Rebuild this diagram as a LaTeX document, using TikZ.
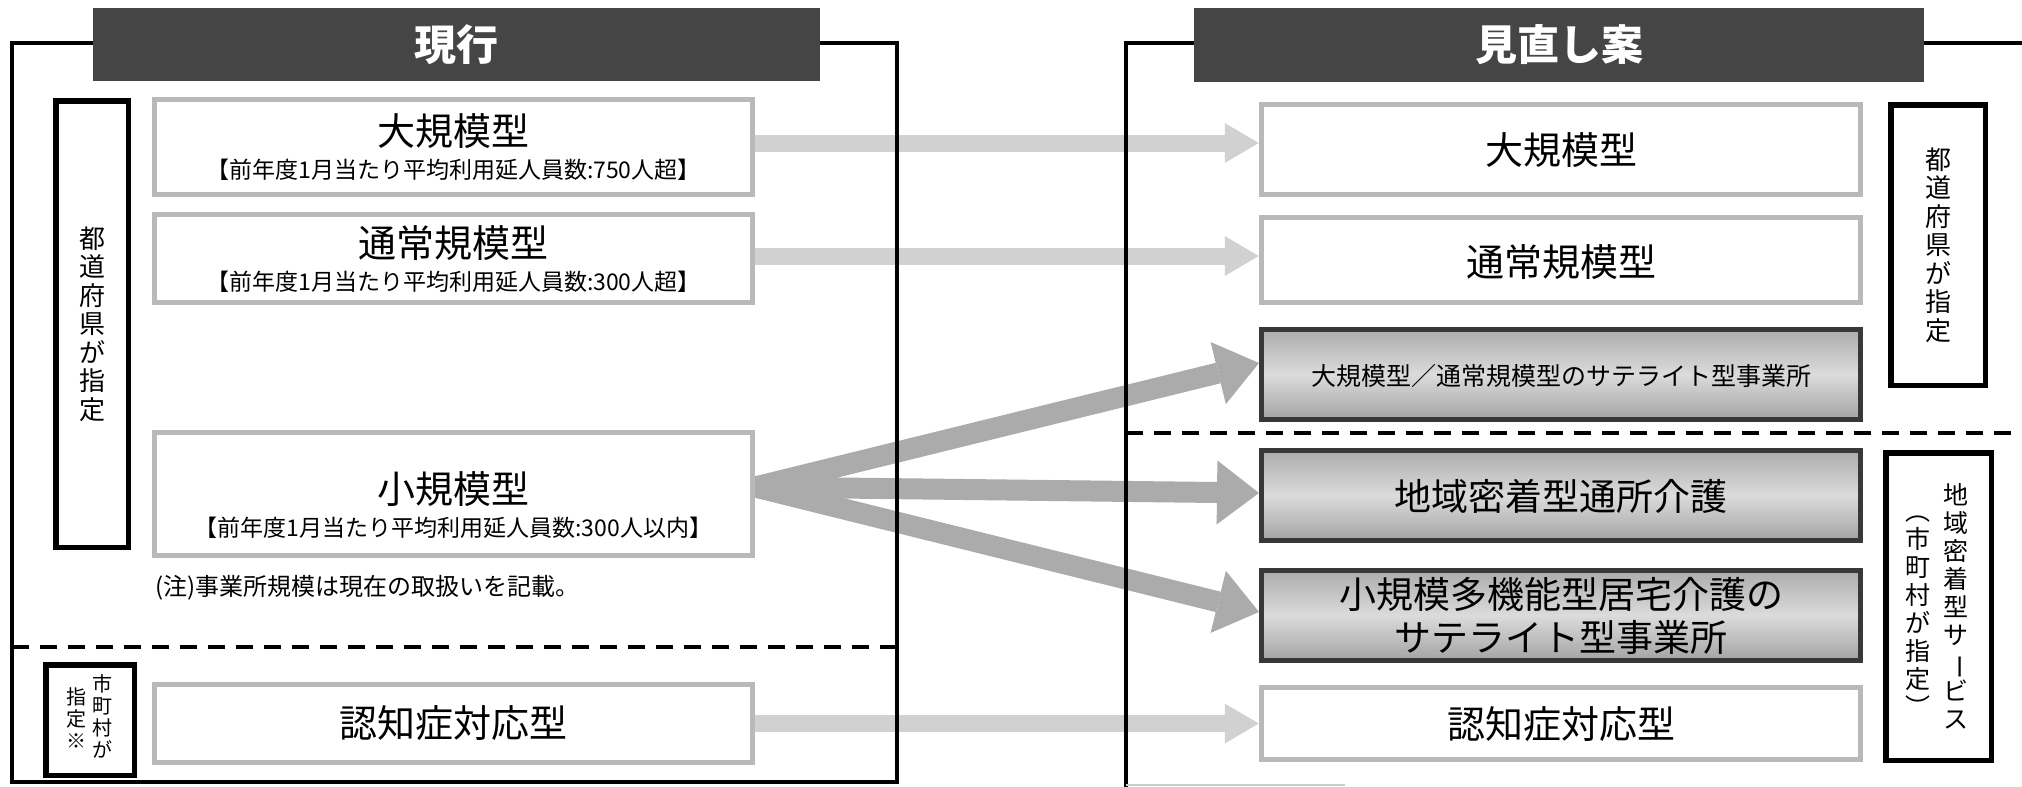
\documentclass[tikz,border=0pt]{standalone}
\usepackage{fontspec}
\usepackage{graphicx}
\setmainfont{Noto Sans CJK JP}
\usetikzlibrary{arrows.meta,calc}
\newcommand{\vbar}{\rotatebox[origin=c]{-90}{ー}}
\newcommand{\vlp}{\rotatebox[origin=c]{-90}{（}}
\newcommand{\vrp}{\rotatebox[origin=c]{-90}{）}}
\pgfdeclarelayer{arr}
\pgfdeclarelayer{frm}
\pgfsetlayers{arr,frm,main}
\begin{document}
\begin{tikzpicture}[x=1pt,y=-1pt,
  frame/.style={line width=4.5pt},
  hdr/.style={fill=black!73, text=white, inner sep=0pt, font=\fontsize{42}{46}\selectfont\bfseries},
  lbox/.style={draw=gray!55, fill=white, line width=5.5pt, inner sep=0pt},
  dbox/.style={draw=black!78, line width=5pt, top color=gray!65, bottom color=gray!72, middle color=gray!28, inner sep=0pt},
  tag/.style={draw=black, line width=5.5pt, fill=white, inner sep=0pt},
  ttl/.style={font=\fontsize{38}{42}\selectfont, inner sep=0pt},
  ttr/.style={font=\fontsize{37}{42}\selectfont, inner sep=0pt},
  sub/.style={font=\fontsize{23}{25}\selectfont, inner sep=0pt},
  vtxt/.style={align=center, inner sep=0pt, font=\fontsize{26}{28.5}\selectfont},
  vsml/.style={align=center, inner sep=0pt, font=\fontsize{20}{22}\selectfont},
  larr/.style={line width=17pt, draw=gray!36, -{Triangle[width=40pt,length=34pt,line width=0pt]}},
  darr/.style={line width=21pt, draw=gray!66, -{Triangle[width=64pt,length=42pt,line width=0pt]}},
  dsh/.style={line width=4pt, dash pattern=on 17pt off 11pt}]
\useasboundingbox (0,0) rectangle (2022,787);

% ---------- frames ----------
\begin{pgfonlayer}{frm}
\draw[frame] (12,43) rectangle (897,782);
\draw[frame] (1126,787) -- (1126,43) -- (2022,43);
\draw[gray!40, line width=2pt] (1126,785) -- (1345,785);
\draw[dsh] (12,647) -- (897,647);
\draw[dsh] (1126,433) -- (2022,433);
\end{pgfonlayer}

% ---------- headers ----------
\node[hdr, minimum width=727pt, minimum height=73pt] (H1) at (456.5,44.5) {現行};
\node[hdr, minimum width=730pt, minimum height=74pt] (H2) at (1559,45) {見直し案};

% ---------- left side ----------
\node[tag, minimum width=72.5pt, minimum height=446.5pt] (LL1) at (92,324) {};
\node[vtxt] (LL1t) at (92,324) {都\\道\\府\\県\\が\\指\\定};
\node[tag, minimum width=88.5pt, minimum height=110.5pt] (LL2) at (90,720) {};
\node[vsml] (LL2a) at (102,716) {市\\町\\村\\が};
\node[vsml] (LL2b) at (76,718) {指\\定\\※};

\node[lbox, minimum width=598pt, minimum height=95pt] (L1) at (453.5,147) {};
\node[ttl] (L1t) at (453.5,131) {大規模型};
\node[sub] (L1s) at (453.5,170) {【前年度1月当たり平均利用延人員数:750人超】};

\node[lbox, minimum width=598pt, minimum height=88pt] (L2) at (453.5,258.5) {};
\node[ttl] (L2t) at (453.5,243) {通常規模型};
\node[sub] (L2s) at (453.5,282) {【前年度1月当たり平均利用延人員数:300人超】};

\node[lbox, minimum width=598pt, minimum height=123pt] (L3) at (453.5,494) {};
\node[ttl] (L3t) at (453.5,489) {小規模型};
\node[sub] (L3s) at (453.5,528) {【前年度1月当たり平均利用延人員数:300人以内】};
\node[font=\fontsize{24}{26}\selectfont, inner sep=0pt, anchor=west] (note) at (155,588) {(注)事業所規模は現在の取扱いを記載。};

\node[lbox, minimum width=598pt, minimum height=78pt] (L4) at (453.5,723.5) {};
\node[ttl] (L4t) at (453.5,723.5) {認知症対応型};

% ---------- right side ----------
\node[lbox, minimum width=599pt, minimum height=90pt] (R1) at (1561,149.5) {};
\node[ttl] (R1t) at (1561,150) {大規模型};
\node[lbox, minimum width=599pt, minimum height=85pt] (R2) at (1561,260) {};
\node[ttl] (R2t) at (1561,262) {通常規模型};
\node[dbox, minimum width=599pt, minimum height=90pt] (R3) at (1561,374.5) {};
\node[inner sep=0pt, font=\fontsize{25}{30}\selectfont] (R3t) at (1561,376) {大規模型／通常規模型のサテライト型事業所};
\node[dbox, minimum width=599pt, minimum height=90pt] (R4) at (1561,495.5) {};
\node[ttr] (R4t) at (1561,496) {地域密着型通所介護};
\node[dbox, minimum width=599pt, minimum height=90pt] (R5) at (1561,615.5) {};
\node[align=center, inner sep=0pt, font=\fontsize{37}{43}\selectfont] (R5t) at (1561,616) {小規模多機能型居宅介護の\\サテライト型事業所};
\node[lbox, minimum width=599pt, minimum height=72pt] (R6) at (1561,723.5) {};
\node[ttl] (R6t) at (1561,724) {認知症対応型};

\node[tag, minimum width=94.5pt, minimum height=280.5pt] (RL1) at (1938,245) {};
\node[vtxt] (RL1t) at (1938,245) {都\\道\\府\\県\\が\\指\\定};
\node[tag, minimum width=105.5pt, minimum height=307.5pt] (RL2) at (1938.5,606.5) {};
\node[vtxt, font=\fontsize{25}{28}\selectfont] (RL2a) at (1956,606) {地\\域\\密\\着\\型\\サ\\\vbar\\ビ\\ス};
\node[vtxt, font=\fontsize{25}{28}\selectfont] (RL2b) at (1918,609) {\vlp\\市\\町\\村\\が\\指\\定\\\vrp};

% ---------- arrows ----------
\begin{pgfonlayer}{arr}
\draw[larr] ([yshift=4pt]L1.east) -- ([yshift=6.5pt]R1.west);
\draw[larr] ([yshift=2.5pt]L2.east) -- ([yshift=4pt]R2.west);
\draw[larr] (L4.east) -- (R6.west);
\coordinate (S) at ([yshift=7pt]L3.east);
\draw[darr] (S) -- ([yshift=11.5pt]R3.west);
\draw[darr] (S) -- ([yshift=2.5pt]R4.west);
\draw[darr] (S) -- ([yshift=3.5pt]R5.west);
\end{pgfonlayer}
\end{tikzpicture}
\end{document}
